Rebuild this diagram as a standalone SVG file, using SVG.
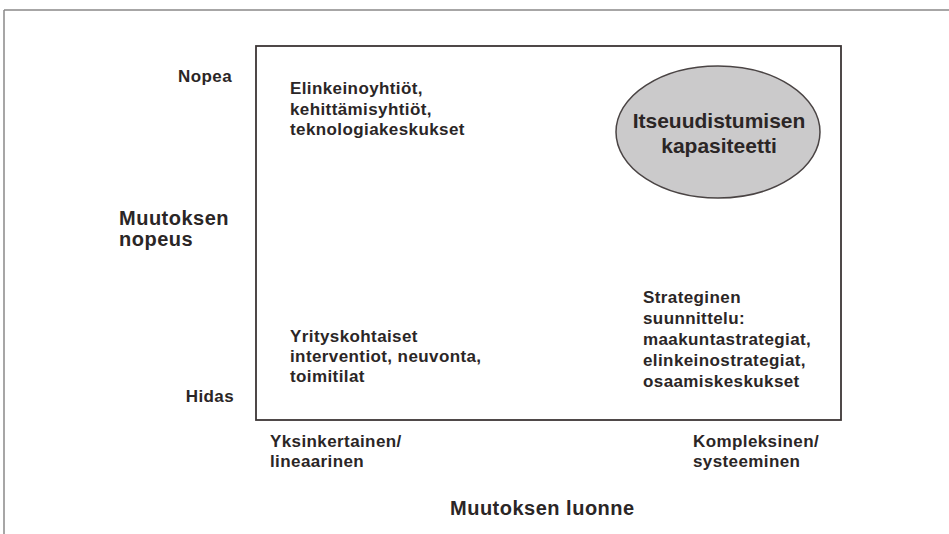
<svg xmlns="http://www.w3.org/2000/svg" width="949" height="534" viewBox="0 0 949 534">
  <style>
    .t { font-family: "Liberation Sans", Arial, sans-serif; font-weight: bold; fill: #2b2626; }
    .s { font-size: 17px; letter-spacing: 0.4px; }
    .l { font-size: 20px; letter-spacing: 0.5px; }
    .e { font-size: 21px; letter-spacing: 0px; }
  </style>
  <rect width="949" height="534" fill="#ffffff"/>

  <!-- page frame -->
  <g id="frame" fill="none" stroke="#8a8888" stroke-width="1.5">
    <line x1="4" y1="10" x2="949" y2="10"/>
    <line x1="4" y1="10" x2="4" y2="534"/>
  </g>

  <!-- field of the matrix -->
  <g id="matrix">
    <rect x="256" y="46" width="585" height="374" fill="none" stroke="#3c3636" stroke-width="1.8"/>
  </g>

  <g id="connectors"/>

  <!-- axis: speed of change -->
  <g id="axis-y">
    <text class="t s" x="232" y="82" text-anchor="end">Nopea</text>
    <text class="t s" x="234" y="402" text-anchor="end">Hidas</text>
    <text class="t l" x="119" y="225">Muutoksen</text>
    <text class="t l" x="119" y="246">nopeus</text>
  </g>

  <!-- axis: nature of change -->
  <g id="axis-x">
    <text class="t s" x="270" y="447">Yksinkertainen/</text>
    <text class="t s" x="270" y="467">lineaarinen</text>
    <text class="t s" x="693" y="447">Kompleksinen/</text>
    <text class="t s" x="693" y="467">systeeminen</text>
    <text class="t l" x="450" y="515">Muutoksen luonne</text>
  </g>

  <g id="fast-simple">
    <text class="t s" x="290" y="94">Elinkeinoyhtiöt,</text>
    <text class="t s" x="290" y="115">kehittämisyhtiöt,</text>
    <text class="t s" x="290" y="135">teknologiakeskukset</text>
  </g>

  <g id="slow-simple">
    <text class="t s" x="290" y="342">Yrityskohtaiset</text>
    <text class="t s" x="290" y="362">interventiot, neuvonta,</text>
    <text class="t s" x="290" y="382">toimitilat</text>
  </g>

  <g id="slow-complex">
    <text class="t s" x="643" y="303">Strateginen</text>
    <text class="t s" x="643" y="324">suunnittelu:</text>
    <text class="t s" x="643" y="345">maakuntastrategiat,</text>
    <text class="t s" x="643" y="366">elinkeinostrategiat,</text>
    <text class="t s" x="643" y="387">osaamiskeskukset</text>
  </g>

  <g id="renewal-capacity">
    <ellipse cx="718" cy="132" rx="102" ry="66" fill="#cbcacb" stroke="#4a4444" stroke-width="1.5"/>
    <text class="t e" x="719" y="128" text-anchor="middle">Itseuudistumisen</text>
    <text class="t e" x="719" y="153" text-anchor="middle">kapasiteetti</text>
  </g>
</svg>
